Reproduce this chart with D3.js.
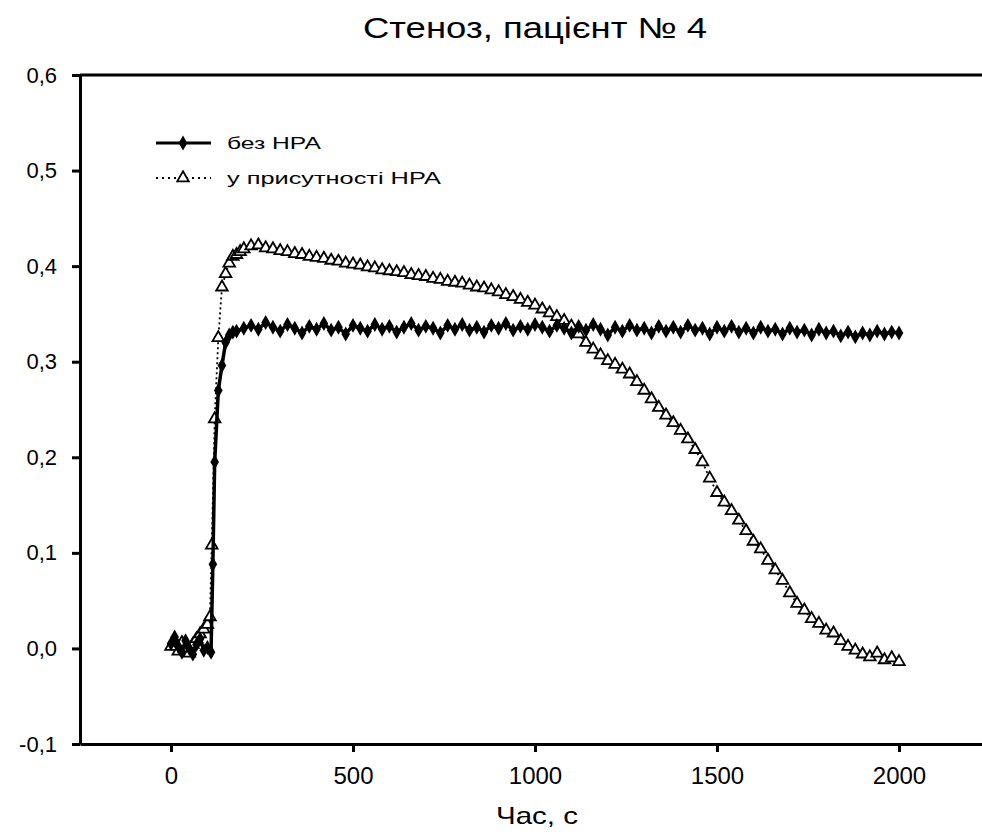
<!DOCTYPE html>
<html lang="uk">
<head>
<meta charset="UTF-8">
<title>Стеноз, пацієнт № 4</title>
<script src="https://cdn.jsdelivr.net/npm/d3@7"></script>
<style>
  body { margin: 0; background: #fff; }
  text { font-family: "Liberation Sans", Arial, Helvetica, sans-serif; fill: #000; }
  g.axis path.domain, g.axis line { stroke: #000; stroke-width: 3px; }
  g.axis text { font-size: 22px; }
  g.xaxis text { font-size: 24px; }
</style>
</head>
<body>
<svg width="982" height="834"></svg>
<script>
// data: [time, value]
const bezNRA = [
  [0,0.005],[10,0.012],[20,0.002],[30,-0.004],[40,0.008],[50,0.000],[60,-0.006],[70,0.004],
  [80,0.010],[90,-0.002],[100,0.001],[110,-0.004],[115,0.088],[120,0.195],[130,0.270],
  [140,0.296],[150,0.320],[160,0.328],[170,0.331],
  [180,0.332],[200,0.335],[220,0.338],[240,0.334],[260,0.341],[280,0.336],[300,0.332],
  [320,0.339],[340,0.335],[360,0.330],[380,0.337],[400,0.334],[420,0.340],[440,0.333],
  [460,0.336],[480,0.329],[500,0.338],[520,0.335],[540,0.332],[560,0.339],[580,0.334],
  [600,0.337],[620,0.331],[640,0.336],[660,0.340],[680,0.333],[700,0.337],[720,0.335],
  [740,0.330],[760,0.338],[780,0.334],[800,0.339],[820,0.333],[840,0.336],[860,0.331],
  [880,0.338],[900,0.335],[920,0.340],[940,0.333],[960,0.337],[980,0.334],[1000,0.339],
  [1020,0.336],[1040,0.332],[1060,0.338],[1080,0.335],[1100,0.330],[1120,0.337],[1140,0.333],
  [1160,0.339],[1180,0.334],[1200,0.328],[1220,0.336],[1240,0.332],[1260,0.338],[1280,0.333],
  [1300,0.335],[1320,0.330],[1340,0.337],[1360,0.332],[1380,0.336],[1400,0.331],[1420,0.338],
  [1440,0.333],[1460,0.335],[1480,0.329],[1500,0.336],[1520,0.332],[1540,0.337],[1560,0.331],
  [1580,0.335],[1600,0.330],[1620,0.336],[1640,0.332],[1660,0.334],[1680,0.329],[1700,0.335],
  [1720,0.331],[1740,0.333],[1760,0.328],[1780,0.334],[1800,0.330],[1820,0.332],[1840,0.327],
  [1860,0.331],[1880,0.326],[1900,0.330],[1920,0.328],[1940,0.332],[1960,0.329],[1980,0.331],
  [2000,0.330]
];

const zNRA = [
  [0,0.002],[10,0.008],[20,-0.003],[30,0.006],[40,0.000],[50,-0.005],[60,0.004],[70,0.010],
  [80,0.015],[90,0.020],[100,0.025],[107,0.033],[112,0.108],[120,0.240],[130,0.325],
  [140,0.378],[150,0.392],[160,0.403],[170,0.410],[180,0.412],[190,0.415],
  [200,0.418],[220,0.421],[240,0.422],[260,0.419],[280,0.418],[300,0.416],[320,0.415],
  [340,0.413],[360,0.412],[380,0.410],[400,0.409],[420,0.408],[440,0.406],[460,0.405],
  [480,0.403],[500,0.402],[520,0.401],[540,0.399],[560,0.398],[580,0.396],[600,0.395],
  [620,0.394],[640,0.393],[660,0.391],[680,0.390],[700,0.389],[720,0.387],[740,0.386],
  [760,0.384],[780,0.383],[800,0.382],[820,0.380],[840,0.378],[860,0.377],[880,0.375],
  [900,0.373],[920,0.370],[940,0.368],[960,0.365],[980,0.362],[1000,0.359],[1020,0.355],
  [1040,0.351],[1060,0.347],[1080,0.343],[1100,0.337],[1120,0.329],[1140,0.320],[1160,0.313],
  [1180,0.307],[1200,0.301],[1220,0.297],[1240,0.292],[1260,0.287],[1280,0.279],[1300,0.270],
  [1320,0.261],[1340,0.252],[1360,0.244],[1380,0.236],[1400,0.228],[1420,0.219],[1440,0.208],
  [1460,0.195],[1480,0.178],[1500,0.163],[1520,0.153],[1540,0.144],[1560,0.134],[1580,0.123],
  [1600,0.112],[1620,0.104],[1640,0.092],[1660,0.082],[1680,0.071],[1700,0.058],[1720,0.047],
  [1740,0.040],[1760,0.031],[1780,0.026],[1800,0.019],[1820,0.016],[1840,0.008],[1860,0.002],
  [1880,-0.002],[1900,-0.006],[1920,-0.009],[1940,-0.005],[1960,-0.012],[1980,-0.010],
  [2000,-0.014]
];

const xTicks = [0, 500, 1000, 1500, 2000];
const yTicks = [-0.1, 0, 0.1, 0.2, 0.3, 0.4, 0.5, 0.6];
const seriesNames = ["без НРА", "у присутності НРА"];
const title = "Стеноз, пацієнт № 4";
const xTitle = "Час, с";

let svg = d3.select('svg');

let xScale = d3.scaleLinear().domain([-250, 2250]).range([80, 990]);
let yScale = d3.scaleLinear().domain([-0.1, 0.6]).range([744, 75]);

let fmt = d => d3.format(".1f")(d).replace('.', ',').replace('−', '-');

// axes
svg.append('g')
  .attr('class', 'axis xaxis')
  .attr('transform', 'translate(0,744)')
  .call(d3.axisBottom(xScale).tickValues(xTicks).tickFormat(d3.format('d'))
    .tickSize(8).tickSizeOuter(0).tickPadding(15));

svg.append('g')
  .attr('class', 'axis')
  .attr('transform', 'translate(80,0)')
  .call(d3.axisLeft(yScale).tickValues(yTicks).tickFormat(fmt)
    .tickSize(8).tickSizeOuter(0).tickPadding(15));

// top border
svg.append('line')
  .attr('x1', xScale(-250)).attr('x2', xScale(2250))
  .attr('y1', yScale(0.6)).attr('y2', yScale(0.6))
  .attr('stroke', '#000').attr('stroke-width', 3);

let line = d3.line()
  .x(d => xScale(d[0]))
  .y(d => yScale(d[1]));

let diamond = d3.symbol().type(d3.symbolDiamond).size(64);
let triangle = d3.symbol().type(d3.symbolTriangle).size(58);

// series with HPA: dotted line, open triangles
let g2 = svg.append('g');
g2.append('path').datum(zNRA)
  .attr('d', line)
  .attr('fill', 'none').attr('stroke', '#000')
  .attr('stroke-width', 1.8).attr('stroke-dasharray', '2,3');
g2.selectAll('path.m').data(zNRA).join('path')
  .attr('class', 'm')
  .attr('d', triangle)
  .attr('transform', d => `translate(${xScale(d[0])},${yScale(d[1])})`)
  .attr('fill', '#fff').attr('stroke', '#000').attr('stroke-width', 1.8);

// series without HPA: solid line, filled diamonds
let g1 = svg.append('g');
g1.append('path').datum(bezNRA)
  .attr('d', line)
  .attr('fill', 'none').attr('stroke', '#000').attr('stroke-width', 3.5);
g1.selectAll('path.m').data(bezNRA).join('path')
  .attr('class', 'm')
  .attr('d', diamond)
  .attr('transform', d => `translate(${xScale(d[0])},${yScale(d[1])})`)
  .attr('fill', '#000');

// legend
let lg = svg.append('g').attr('transform', 'translate(156,143)');
lg.append('line').attr('x1', 0).attr('x2', 55).attr('y1', 0).attr('y2', 0)
  .attr('stroke', '#000').attr('stroke-width', 3);
lg.append('path').attr('d', diamond).attr('transform', 'translate(27,0)').attr('fill', '#000');
lg.append('text').attr('x', 71).attr('y', 6).attr('font-size', 16)
  .attr('textLength', 94).attr('lengthAdjust', 'spacingAndGlyphs').text(seriesNames[0]);

lg.append('line').attr('x1', 0).attr('x2', 55).attr('y1', 35).attr('y2', 35)
  .attr('stroke', '#000').attr('stroke-width', 1.8).attr('stroke-dasharray', '2,4');
lg.append('path').attr('d', triangle).attr('transform', 'translate(27,35)')
  .attr('fill', '#fff').attr('stroke', '#000').attr('stroke-width', 1.8);
lg.append('text').attr('x', 71).attr('y', 41).attr('font-size', 16)
  .attr('textLength', 214).attr('lengthAdjust', 'spacingAndGlyphs').text(seriesNames[1]);

// titles
svg.append('text').attr('x', 535).attr('y', 38).attr('text-anchor', 'middle')
  .attr('font-size', 29).attr('textLength', 344).attr('lengthAdjust', 'spacingAndGlyphs')
  .text(title);
svg.append('text').attr('x', 537).attr('y', 824).attr('text-anchor', 'middle')
  .attr('font-size', 24).attr('textLength', 82).attr('lengthAdjust', 'spacingAndGlyphs')
  .text(xTitle);
</script>
</body>
</html>
